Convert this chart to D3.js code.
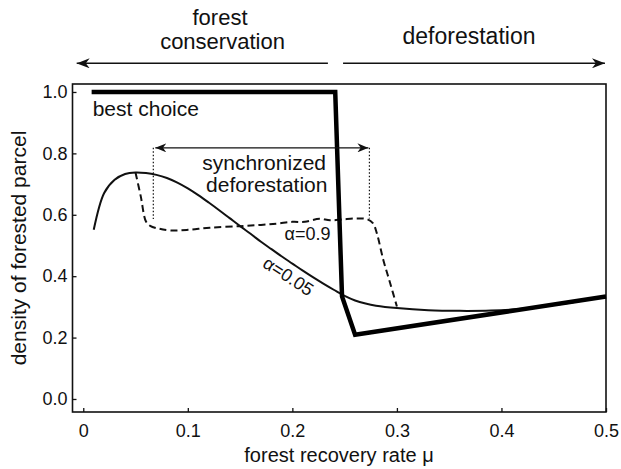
<!DOCTYPE html>
<html>
<head>
<meta charset="utf-8">
<script src="https://cdn.jsdelivr.net/npm/d3@7"></script>
<style>
  html, body { margin: 0; padding: 0; background: #fff; }
  svg { display: block; }
  text { font-family: "Liberation Sans", Arial, Helvetica, sans-serif; fill: #111; }
</style>
</head>
<body>
<svg id="chart" width="621" height="469"></svg>
<script>
// ---------------- data ----------------
const xTicks = [0, 0.1, 0.2, 0.3, 0.4, 0.5];
const xTickLabels = ["0", "0.1", "0.2", "0.3", "0.4", "0.5"];
const yTicks = [0, 0.2, 0.4, 0.6, 0.8, 1.0];
const yTickLabels = ["0.0", "0.2", "0.4", "0.6", "0.8", "1.0"];

// best choice (thick line)
const bestChoice = [
  [0.008, 1.0], [0.241, 1.0], [0.2475, 0.334], [0.26, 0.209], [0.5, 0.334]
];

// alpha = 0.05 (solid thin)
const alpha005 = [
  [0.01, 0.551], [0.02, 0.671], [0.03, 0.714], [0.04, 0.733], [0.05, 0.738],
  [0.06, 0.736], [0.07, 0.730], [0.08, 0.720], [0.09, 0.705], [0.10, 0.686],
  [0.11, 0.664], [0.12, 0.640], [0.13, 0.615], [0.14, 0.589], [0.15, 0.563],
  [0.16, 0.538], [0.17, 0.512], [0.18, 0.488], [0.19, 0.464], [0.20, 0.441],
  [0.21, 0.418], [0.22, 0.396], [0.23, 0.375], [0.24, 0.355], [0.25, 0.336],
  [0.26, 0.321], [0.27, 0.311], [0.28, 0.304], [0.30, 0.296], [0.33, 0.289],
  [0.36, 0.287], [0.39, 0.288], [0.42, 0.294], [0.45, 0.306], [0.50, 0.334]
];

// alpha = 0.9 (dashed)
const alpha09 = [
  [0.050, 0.737], [0.055, 0.66], [0.060, 0.578], [0.064, 0.564], [0.072, 0.555],
  [0.083, 0.549], [0.100, 0.551], [0.121, 0.558], [0.150, 0.563], [0.170, 0.567],
  [0.185, 0.571], [0.200, 0.577], [0.212, 0.577], [0.226, 0.587], [0.236, 0.582],
  [0.248, 0.585], [0.262, 0.588], [0.271, 0.586], [0.277, 0.573], [0.2807, 0.541],
  [0.287, 0.453], [0.2935, 0.378], [0.300, 0.301]
];

// synchronized deforestation range
const syncRange = [0.067, 0.2737];
const syncArrowY = 0.818;
const syncDottedBottom = [0.586, 0.588];

// top region arrows (x extents)
const conservationArrow = [0.234, -0.0063];
const deforestationArrow = [0.2485, 0.499];

// ---------------- layout ----------------
const svg = d3.select("#chart");
const x = d3.scaleLinear().domain([-0.0103, 0.5]).range([72.5, 606]);
const y = d3.scaleLinear().domain([-0.0424, 1.026]).range([412, 84]);

// markers
const defs = svg.append("defs");
function marker(id, len, wid) {
  defs.append("marker")
    .attr("id", id)
    .attr("viewBox", `0 0 ${len} ${wid}`)
    .attr("refX", len).attr("refY", wid / 2)
    .attr("markerUnits", "userSpaceOnUse")
    .attr("markerWidth", len).attr("markerHeight", wid)
    .attr("orient", "auto-start-reverse")
    .append("path")
    .attr("d", `M0,0 L${len},${wid / 2} L0,${wid} L${len * 0.3},${wid / 2} Z`)
    .attr("fill", "#111");
}
marker("bigHead", 13, 10);
marker("smallHead", 11, 9);

// frame
svg.append("rect")
  .attr("x", x(-0.0103)).attr("y", y(1.026))
  .attr("width", x(0.5) - x(-0.0103)).attr("height", y(-0.0424) - y(1.026))
  .attr("fill", "none").attr("stroke", "#111").attr("stroke-width", 1.6);

// axes
const xAxis = d3.axisBottom(x).tickValues(xTicks)
  .tickFormat((d, i) => xTickLabels[i]).tickSizeInner(-4).tickSizeOuter(0).tickPadding(12);
const gx = svg.append("g").attr("transform", `translate(0,${y(-0.0424)})`).call(xAxis);
gx.select(".domain").remove();
gx.selectAll("line").attr("stroke", "#111").attr("stroke-width", 1.3);
gx.selectAll("text").style("font-size", "18px").attr("fill", "#111");

const yAxis = d3.axisLeft(y).tickValues(yTicks)
  .tickFormat((d, i) => yTickLabels[i]).tickSizeInner(-4).tickSizeOuter(0).tickPadding(5);
const gy = svg.append("g").attr("transform", `translate(${x(-0.0103)},0)`).call(yAxis);
gy.select(".domain").remove();
gy.selectAll("line").attr("stroke", "#111").attr("stroke-width", 1.3);
gy.selectAll("text").style("font-size", "18px").attr("fill", "#111");

// axis titles
svg.append("text").attr("x", 339).attr("y", 462).attr("text-anchor", "middle")
  .style("font-size", "20px").text("forest recovery rate μ");
svg.append("text").attr("transform", "translate(26,248) rotate(-90)")
  .attr("text-anchor", "middle").style("font-size", "21px").text("density of forested parcel");

// curves
const lineLin = d3.line().x(d => x(d[0])).y(d => y(d[1]));
const lineSmooth = d3.line().x(d => x(d[0])).y(d => y(d[1])).curve(d3.curveCatmullRom.alpha(0.5));

svg.append("path").datum(alpha005).attr("d", lineSmooth)
  .attr("fill", "none").attr("stroke", "#111").attr("stroke-width", 2);
svg.append("path").datum(alpha09).attr("d", lineSmooth)
  .attr("fill", "none").attr("stroke", "#111").attr("stroke-width", 2)
  .attr("stroke-dasharray", "7,4");
svg.append("path").datum(bestChoice).attr("d", lineLin)
  .attr("fill", "none").attr("stroke", "#000").attr("stroke-width", 4.5)
  .attr("stroke-linejoin", "miter");

// synchronized deforestation annotation
syncRange.forEach((sx, i) => {
  svg.append("line")
    .attr("x1", x(sx)).attr("x2", x(sx))
    .attr("y1", y(syncArrowY)).attr("y2", y(syncDottedBottom[i]))
    .attr("stroke", "#111").attr("stroke-width", 1.2).attr("stroke-dasharray", "1.5,2");
});
svg.append("line")
  .attr("x1", x(syncRange[0]) + 2).attr("x2", x(syncRange[1]) - 1)
  .attr("y1", y(syncArrowY)).attr("y2", y(syncArrowY))
  .attr("stroke", "#111").attr("stroke-width", 1.4)
  .attr("marker-start", "url(#smallHead)").attr("marker-end", "url(#smallHead)");

svg.append("text").attr("x", x(0.173)).attr("y", y(0.747)).attr("text-anchor", "middle")
  .style("font-size", "21px").text("synchronized");
svg.append("text").attr("x", x(0.1755)).attr("y", y(0.673)).attr("text-anchor", "middle")
  .style("font-size", "21px").text("deforestation");

svg.append("text").attr("x", x(0.009)).attr("y", y(0.921))
  .style("font-size", "21px").text("best choice");

svg.append("text").attr("x", x(0.2145)).attr("y", y(0.519)).attr("text-anchor", "middle")
  .style("font-size", "18px").text("α=0.9");
svg.append("text")
  .attr("transform", `translate(${x(0.193)},${y(0.383)}) rotate(33)`)
  .attr("text-anchor", "middle").style("font-size", "18px").text("α=0.05");

// top arrows and labels
svg.append("line")
  .attr("x1", x(conservationArrow[0])).attr("x2", x(conservationArrow[1]))
  .attr("y1", 63.3).attr("y2", 63.3)
  .attr("stroke", "#111").attr("stroke-width", 1.6).attr("marker-end", "url(#bigHead)");
svg.append("line")
  .attr("x1", x(deforestationArrow[0])).attr("x2", x(deforestationArrow[1]))
  .attr("y1", 63.3).attr("y2", 63.3)
  .attr("stroke", "#111").attr("stroke-width", 1.6).attr("marker-end", "url(#bigHead)");

svg.append("text").attr("x", 220).attr("y", 25).attr("text-anchor", "middle")
  .style("font-size", "22px").text("forest");
svg.append("text").attr("x", 222.5).attr("y", 49).attr("text-anchor", "middle")
  .style("font-size", "22px").text("conservation");
svg.append("text").attr("x", 469).attr("y", 44).attr("text-anchor", "middle")
  .style("font-size", "23px").text("deforestation");
</script>
</body>
</html>
